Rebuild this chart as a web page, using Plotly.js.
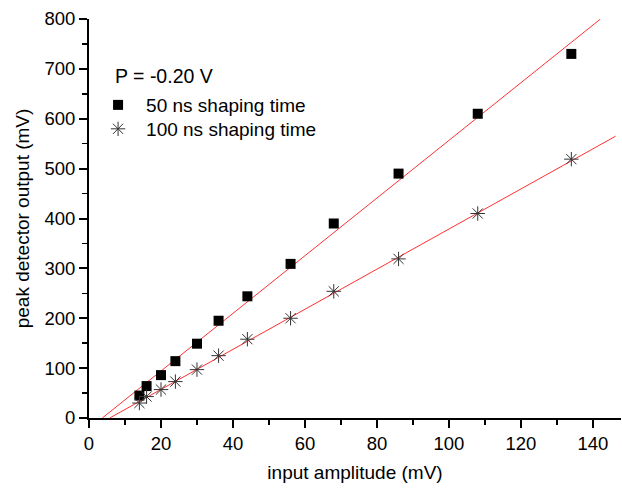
<!DOCTYPE html>
<html><head><meta charset="utf-8">
<script src="https://cdn.plot.ly/plotly-3.0.1.min.js"></script>
<style>html,body{margin:0;padding:0;background:#fff}#plot{width:622px;height:488px}</style>
</head><body><div id="plot"></div>
<script>
var inputAmp = [14, 16, 20, 24, 30, 36, 44, 56, 68, 86, 108, 134];
var out50 = [45, 64, 86, 114, 149, 195, 244, 309, 390, 490, 610, 730];
var out100 = [30, 43, 57, 73, 97, 125, 158, 200, 254, 319, 410, 519];
var fit50X = [3.7, 142.1], fit50Y = [0, 800];
var fit100X = [5.75, 146.3], fit100Y = [0, 565];
var legendHeader = 'P = -0.20 V';
var name50 = '50 ns shaping time', name100 = '100 ns shaping time';

var font = 'Liberation Sans, Arial, sans-serif';
var traces = [
  {x: fit50X, y: fit50Y, mode: 'lines', line: {color: '#ff3030', width: 1}, showlegend: false, hoverinfo: 'skip'},
  {x: fit100X, y: fit100Y, mode: 'lines', line: {color: '#ff3030', width: 1}, showlegend: false, hoverinfo: 'skip'},
  {x: inputAmp, y: out50, mode: 'markers', name: name50, legend: 'legend',
   marker: {symbol: 'square', size: 10, color: '#000'}},
  {x: inputAmp, y: out100, mode: 'markers', name: name100, legend: 'legend2',
   marker: {symbol: 'asterisk-open', size: 12, color: '#333', line: {color: '#333', width: 1}}}
];
var axisCommon = {
  showgrid: false, zeroline: false, showline: true, linecolor: '#000', linewidth: 2,
  ticks: 'outside', ticklen: 8, tickwidth: 2, tickcolor: '#000',
  tickfont: {family: font, size: 18.5, color: '#000'},
  minor: {ticks: 'outside', ticklen: 5, tickwidth: 1.5, tickcolor: '#000'}
};
var legendCommon = {xanchor: 'left', yanchor: 'top', bgcolor: 'rgba(0,0,0,0)',
  font: {family: font, size: 19, color: '#000'}, itemwidth: 46};
var layout = {
  width: 622, height: 488,
  margin: {l: 89, r: 1, t: 19, b: 70},
  paper_bgcolor: '#fff', plot_bgcolor: '#fff',
  font: {family: font, color: '#000'},
  xaxis: Object.assign({}, axisCommon, {range: [0, 147.8], dtick: 20, tick0: 0,
    minor: Object.assign({}, axisCommon.minor, {dtick: 10}),
    title: {text: 'input amplitude (mV)', font: {family: font, size: 19, color: '#000'}, standoff: 12}}),
  yaxis: Object.assign({}, axisCommon, {range: [0, 800], dtick: 100, tick0: 0,
    minor: Object.assign({}, axisCommon.minor, {dtick: 50}),
    title: {text: 'peak detector output (mV)', font: {family: font, size: 19, color: '#000'}, standoff: 10}}),
  showlegend: true,
  legend: Object.assign({}, legendCommon, {x: 0.002, y: 0.832}),
  legend2: Object.assign({}, legendCommon, {x: 0.002, y: 0.772}),
  annotations: [{text: legendHeader, xref: 'paper', yref: 'paper', x: 0.045, y: 0.825,
    xanchor: 'left', yanchor: 'bottom', showarrow: false, font: {family: font, size: 19.5, color: '#000'}}]
};
Plotly.newPlot('plot', traces, layout, {staticPlot: true});
</script></body></html>
